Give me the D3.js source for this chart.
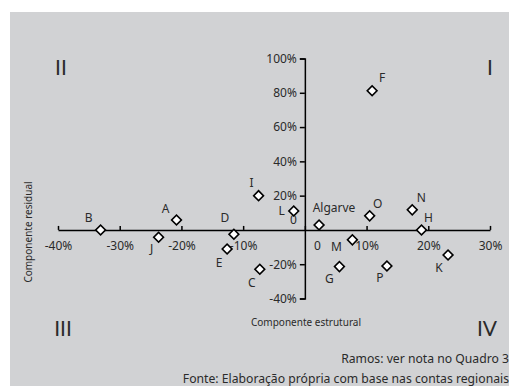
<!DOCTYPE html>
<html>
<head>
<meta charset="utf-8">
<script src="https://cdn.jsdelivr.net/npm/d3@7"></script>
<style>
html,body{margin:0;padding:0;background:#fff;}
text{font-family:"Noto Sans",sans-serif;}
</style>
</head>
<body>
<svg id="chart" width="509" height="386"></svg>
<script>
// ---- data ----
const names = ["F","I","L","Algarve","O","N","H","M","G","P","K","C","B","A","J","D","E"];
const estrutural = [10.9,-7.5,-1.8,2.3,10.5,17.4,18.9,7.7,5.6,13.3,23.2,-7.3,-33.1,-20.8,-23.7,-11.5,-12.6];
const residual   = [81.2,20.0,11.0,2.9,8.2,11.7,0.0,-5.8,-21.4,-21.0,-14.6,-22.9,0.0,5.8,-4.3,-2.5,-11.1];
// label offsets (pixels) relative to the marker
const labelDx = [10,-7,-12,15,8,9,7,-16,-10,-7,-9,-8,-12,-11,-7,-9,-8];
const labelDy = [-13,-13,0,-17,-12,-12,-12,7,12,12,13,14,-12,-11,11,-16,14];
const xTicks = [-40,-30,-20,-10,0,10,20,30];
const yTicks = [-40,-20,0,20,40,60,80,100];
const quadNames = ["II","I","III","IV"];

const svg = d3.select("#chart");
svg.append("rect").attr("x",10).attr("y",12).attr("width",499).attr("height",374).attr("fill","#d1d2d4");

const x = d3.scaleLinear().domain([-40,30]).range([58,490]);
const y = d3.scaleLinear().domain([-40,100]).range([298.5,58.5]);

// X axis
const xAxis = d3.axisBottom(x).tickValues(xTicks).tickSize(-4).tickSizeOuter(0)
  .tickFormat(d => d===0 ? "0" : d+"%");
const gx = svg.append("g").attr("transform",`translate(0,${y(0)})`).call(xAxis);
gx.attr("font-family",null);
gx.select(".domain").attr("stroke","#000").attr("stroke-width",1.5);
gx.selectAll(".tick line").attr("stroke","#000").attr("stroke-width",1.5);
gx.selectAll(".tick text").attr("y",12).attr("dy","0.71em")
  .attr("font-size",12).attr("fill","#2a2a2a");
gx.selectAll(".tick").filter(d=>d===0).select("text").attr("x",12);

// Y axis
const yAxis = d3.axisLeft(y).tickValues(yTicks).tickSize(5).tickSizeOuter(5)
  .tickFormat(d => d===0 ? "0" : d+"%");
const gy = svg.append("g").attr("transform",`translate(${x(0)},0)`).call(yAxis);
gy.attr("font-family",null);
gy.select(".domain").attr("stroke","#000").attr("stroke-width",1.5);
gy.selectAll(".tick line").attr("stroke","#000").attr("stroke-width",1.5);
gy.selectAll(".tick").filter(d=>d===0).select("line").remove();
gy.selectAll(".tick text").attr("x",-8)
  .attr("font-size",12).attr("fill","#2a2a2a");
gy.selectAll(".tick").filter(d=>d===0).select("text").attr("y",-10);

// points
const sym = d3.symbol().type(d3.symbolSquare).size(48);
const g = svg.append("g");
names.forEach((n,i)=>{
  const px = x(estrutural[i]), py = y(residual[i]);
  g.append("path").attr("d",sym())
    .attr("transform",`translate(${px},${py}) rotate(45)`)
    .attr("fill","#fff").attr("stroke","#000").attr("stroke-width",1.6);
  g.append("text").attr("x",px+labelDx[i]).attr("y",py+labelDy[i]).attr("dy","0.35em")
    .attr("text-anchor","middle").attr("font-size",12).attr("fill","#2a2a2a").text(n);
});

// quadrant labels
const qx = [61,490,63,487], qy = [67,67,328,328];
quadNames.forEach((t,i)=>{
  svg.append("text").attr("x",qx[i]).attr("y",qy[i]).attr("dy","0.36em")
    .attr("text-anchor","middle").style("font-family","Lato, 'Liberation Sans', sans-serif")
    .style("font-weight",400).attr("font-size",21).attr("fill","#2a2a2a").text(t);
});

// axis titles
svg.append("text").attr("x",306).attr("y",322).attr("dy","0.35em").attr("text-anchor","middle")
  .attr("font-size",10).attr("fill","#2a2a2a").text("Componente estrutural");
svg.append("text").attr("transform","translate(28,232) rotate(-90)").attr("dy","0.35em")
  .attr("text-anchor","middle").attr("font-size",10).attr("fill","#2a2a2a").text("Componente residual");

// footer
svg.append("text").attr("x",509).attr("y",359).attr("dy","0.35em").attr("text-anchor","end")
  .attr("font-size",12.2).attr("fill","#2a2a2a").text("Ramos: ver nota no Quadro 3");
svg.append("text").attr("x",509).attr("y",379).attr("dy","0.35em").attr("text-anchor","end")
  .attr("font-size",12.2).attr("fill","#2a2a2a").text("Fonte: Elaboração própria com base nas contas regionais");
</script>
</body>
</html>
